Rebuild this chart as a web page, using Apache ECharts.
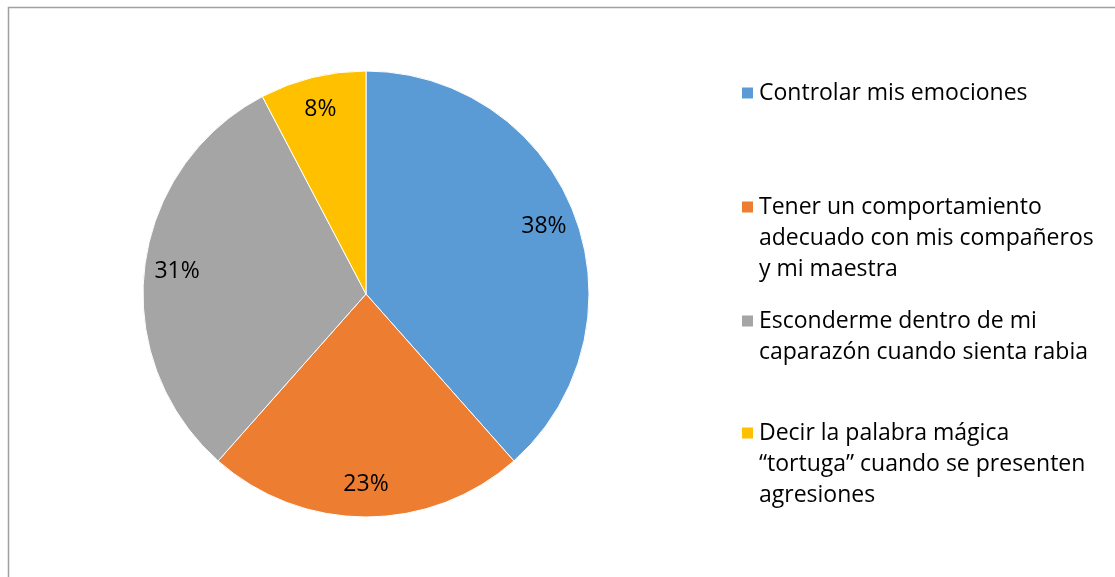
<!DOCTYPE html>
<html><head><meta charset="utf-8">
<script src="https://cdn.jsdelivr.net/npm/echarts@6/dist/echarts.min.js"></script>
<style>html,body{margin:0;padding:0;background:#fff}#c{width:1115px;height:577px}</style>
</head><body><div id="c"></div>
<script>
const categories = [
  'Controlar mis emociones',
  'Tener un comportamiento\nadecuado con mis compañeros\ny mi maestra',
  'Esconderme dentro de mi\ncaparazón cuando sienta rabia',
  'Decir la palabra mágica\n“tortuga” cuando se presenten\nagresiones'
];
const values = [5, 3, 4, 1];
const colors = ['#5B9BD5', '#ED7D31', '#A5A5A5', '#FFC000'];

const FONT = 'Open Sans';
const LH = 31;
const legendTops = [92, 206, 320, 432];
const cx = 366, cy = 294, R = 223;
const total = values.reduce((a, b) => a + b, 0);

const data = categories.map((n, i) => ({ name: n, value: values[i], itemStyle: { color: colors[i] } }));

const legends = categories.map((n, i) => {
  const lines = n.split('\n').length;
  return {
    orient: 'vertical',
    left: 740,
    top: legendTops[i] - 14.5 - (lines - 1) * LH,
    padding: 0,
    itemWidth: 13, itemHeight: 13,
    icon: 'rect',
    selectedMode: false,
    data: [n],
    formatter: name => '\n'.repeat(lines - 1) + name,
    textStyle: {
      fontFamily: FONT, fontSize: 23, color: '#000', lineHeight: LH
    }
  };
});

const chart = echarts.init(document.getElementById('c'), null, { renderer: 'canvas' });
chart.setOption({
  animation: false,
  backgroundColor: '#fff',
  legend: legends,
  graphic: [{
    type: 'rect', left: 6, top: 5, silent: true,
    shape: { width: 1200, height: 700 },
    style: { fill: 'none', stroke: '#A0A0A0', lineWidth: 1.5 }
  }],
  series: [{
    type: 'pie',
    center: [cx, cy],
    radius: [0, R],
    startAngle: 90,
    clockwise: true,
    data: data,
    label: { show: false },
    labelLine: { show: false },
    itemStyle: { borderColor: '#fff', borderWidth: 1 },
    emphasis: { disabled: true }
  }, {
    type: 'pie',
    center: [cx, cy],
    radius: [R * 0.68, R],
    startAngle: 90,
    clockwise: true,
    silent: true,
    data: data.map(d => ({ name: d.name, value: d.value })),
    itemStyle: { color: 'rgba(0,0,0,0)', borderWidth: 0 },
    label: {
      show: true, position: 'inside',
      fontFamily: FONT, fontSize: 23, color: '#000',
      formatter: p => Math.round(p.value / total * 100) + '%'
    },
    labelLine: { show: false },
    emphasis: { disabled: true }
  }]
});
</script></body></html>
